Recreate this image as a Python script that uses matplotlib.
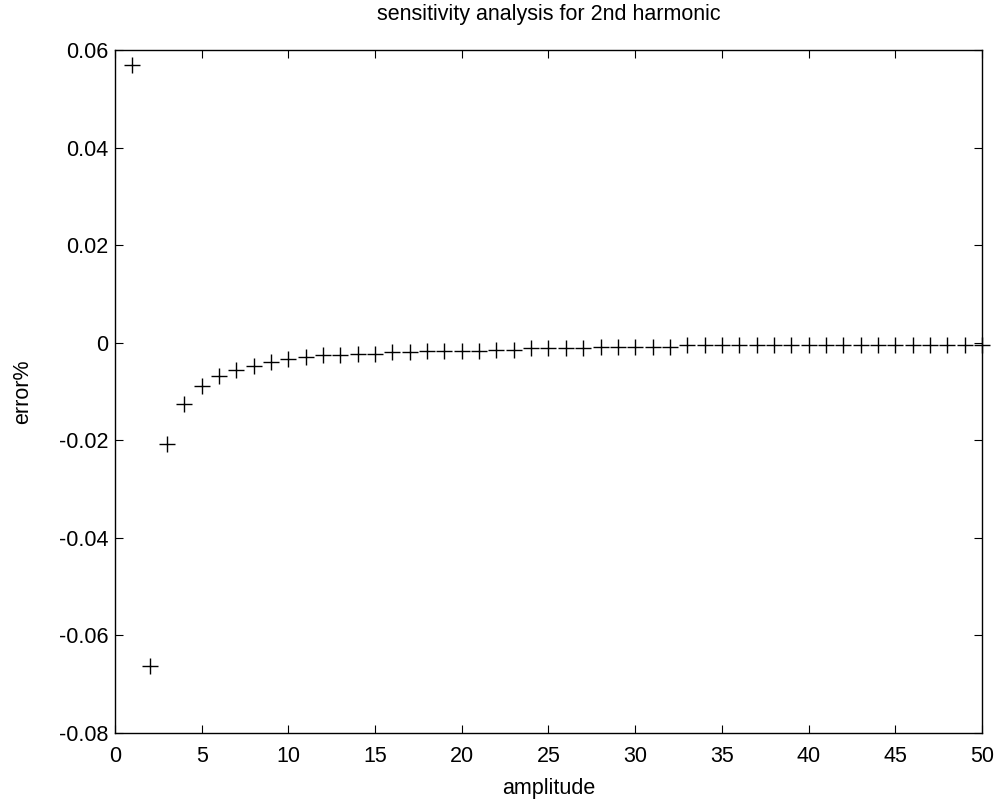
import matplotlib
matplotlib.use("Agg")
import matplotlib.pyplot as plt
from matplotlib.ticker import FormatStrFormatter

plt.rcParams['font.family'] = ['Liberation Sans', 'DejaVu Sans']
plt.rcParams['axes.unicode_minus'] = False

amplitude = list(range(1, 51))
error_pct = [
    0.0569, -0.0663, -0.0208, -0.0126, -0.0089, -0.0068, -0.0055, -0.0048, -0.0039, -0.0034,
    -0.0030, -0.0025, -0.0025, -0.0022, -0.0022, -0.0018, -0.0018, -0.0017, -0.0016, -0.0016,
    -0.0016, -0.0015, -0.0015, -0.0010, -0.0010, -0.0010, -0.0010, -0.0009, -0.0009, -0.0009,
    -0.0009, -0.0009, -0.0005, -0.0005, -0.0005, -0.0005, -0.0005, -0.0005, -0.0005, -0.0005,
    -0.0005, -0.0005, -0.0005, -0.0005, -0.0005, -0.0005, -0.0005, -0.0005, -0.0005, -0.0004,
]
x_ticks = [0, 5, 10, 15, 20, 25, 30, 35, 40, 45, 50]
y_ticks = [-0.08, -0.06, -0.04, -0.02, 0, 0.02, 0.04, 0.06]

fig = plt.figure(figsize=(10.02, 8.08), dpi=100)
ax = fig.add_axes([0.1148, 0.0928, 0.98 - 0.1148, 0.938 - 0.0928])
ax.plot(amplitude, error_pct, linestyle='none', marker='+', color='black',
        markersize=12, markeredgewidth=1.0, clip_on=False)
ax.set_xlim(0, 50)
ax.set_ylim(-0.08, 0.06)
ax.set_xticks(x_ticks)
ax.set_yticks(y_ticks)
ax.yaxis.set_major_formatter(FormatStrFormatter('%g'))
ax.xaxis.set_major_formatter(FormatStrFormatter('%g'))
ax.tick_params(direction='in', length=6, width=0.8, top=True, right=True,
               labelsize=15.5, colors='black')
ax.tick_params(axis='x', pad=9)
ax.tick_params(axis='y', pad=5)
for s in ax.spines.values():
    s.set_linewidth(1.0)
    s.set_color('black')
ax.set_title('sensitivity analysis for 2nd harmonic', fontsize=15.5, pad=22)
ax.set_xlabel('amplitude', fontsize=15.5, labelpad=8)
ax.set_ylabel('error%', fontsize=15.5, labelpad=18)
fig.savefig('out.png', dpi=100)
